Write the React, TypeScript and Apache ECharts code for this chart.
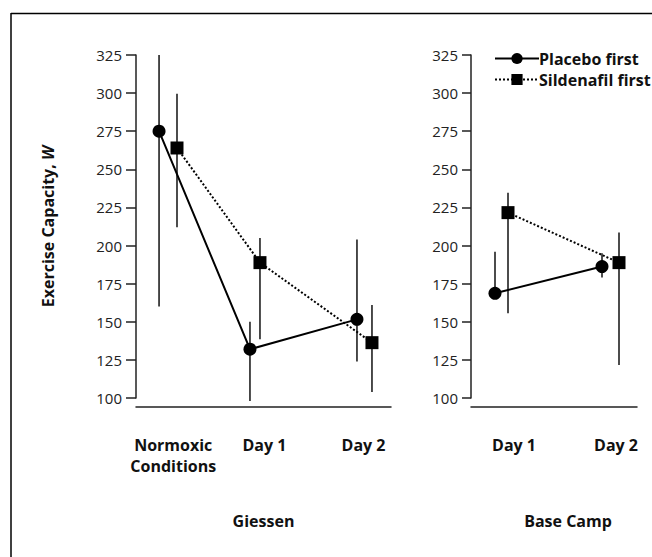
import React, { useEffect, useRef } from "react";
import * as echarts from "echarts";

// ---- Data ----
const giessenCategories = ["Normoxic\nConditions", "Day 1", "Day 2"];
const giessenCategoryPos = [-0.02, 0.91, 1.92];
const baseCampCategories = ["Day 1", "Day 2"];
const baseCampCategoryPos = [0.03, 1.05];

const yTicks = [100, 125, 150, 175, 200, 225, 250, 275, 300, 325];

// Giessen
const gPlaceboX = [-0.165, 0.762, 1.853];
const gPlaceboY = [275, 132, 151.6];
const gPlaceboLow = [160, 98, 124];
const gPlaceboHigh = [325, 150, 204];

const gSildX = [0.018, 0.864, 2.006];
const gSildY = [264, 188.8, 136.3];
const gSildLow = [212, 138.5, 104];
const gSildHigh = [299.5, 205, 161];

// Base Camp
const bPlaceboX = [-0.16, 0.91];
const bPlaceboY = [168.7, 186.2];
const bPlaceboLow = [168.7, 179];
const bPlaceboHigh = [196, 195];

const bSildX = [-0.03, 1.08];
const bSildY = [221.6, 188.8];
const bSildLow = [155.6, 121.6];
const bSildHigh = [234.7, 208.5];

const FONT = "'Open Sans', 'Noto Sans', sans-serif";

function pts(xs: number[], ys: number[]) {
  return xs.map((x, i) => [x, ys[i]]);
}
function bars(xs: number[], lo: number[], hi: number[]) {
  return xs.map((x, i) => [x, lo[i], hi[i]]);
}

const renderErr = (params: any, api: any) => {
  const x = api.value(0);
  const p1 = api.coord([x, api.value(1)]);
  const p2 = api.coord([x, api.value(2)]);
  return {
    type: "line",
    shape: { x1: p1[0], y1: p1[1], x2: p2[0], y2: p2[1] },
    style: { stroke: "#111", lineWidth: 1.5 },
  };
};

export default function App() {
  const ref = useRef<HTMLDivElement>(null);
  useEffect(() => {
    if (!ref.current) return;
    const chart = echarts.init(ref.current, undefined, { renderer: "svg" });

    const yAxisBase = (idx: number, tickLen: number) => ({
      type: "value",
      gridIndex: idx,
      min: yTicks[0],
      max: yTicks[yTicks.length - 1],
      interval: 25,
      axisLine: { show: true, onZero: false, lineStyle: { color: "#222", width: 1.5 } },
      axisTick: { show: true, length: tickLen, lineStyle: { color: "#222", width: 1.5 } },
      axisLabel: { color: "#222", fontSize: 15, fontFamily: FONT, margin: tickLen + 4 },
      splitLine: { show: false },
    });

    const xAxisBase = (idx: number, min: number, max: number, pos: number[], labels: string[]) => ({
      type: "value",
      gridIndex: idx,
      min,
      max,
      offset: 9,
      axisLine: { show: true, onZero: false, lineStyle: { color: "#222", width: 1.5 } },
      axisTick: { show: false },
      splitLine: { show: false },
      axisLabel: {
        customValues: pos,
        showMinLabel: true,
        showMaxLabel: true,
        margin: 27,
        color: "#111",
        fontSize: 16,
        fontWeight: "bold",
        fontFamily: FONT,
        lineHeight: 21,
        formatter: (v: number) => {
          const i = pos.findIndex((p) => Math.abs(p - v) < 1e-6);
          return i >= 0 ? labels[i] : "";
        },
      },
      nameLocation: "middle",
      nameTextStyle: { color: "#111", fontSize: 16, fontWeight: "bold", fontFamily: FONT },
    });

    const lineSolid = { color: "#000", width: 2, type: "solid" };
    const lineDot = { color: "#000", width: 2, type: [2, 2] };

    const option: any = {
      animation: false,
      backgroundColor: "#fff",
      textStyle: { fontFamily: FONT },
      grid: [
        { left: 136, width: 255, top: 55, height: 343 },
        { left: 471, width: 166, top: 55, height: 343 },
      ],
      xAxis: [
        { ...xAxisBase(0, -0.4, 2.2, giessenCategoryPos, giessenCategories), name: "Giessen", nameGap: 106 },
        {
          ...xAxisBase(1, -0.4, 1.26, baseCampCategoryPos, baseCampCategories),
          name: "Base Camp",
          nameGap: 106,
          nameTextStyle: { color: "#111", fontSize: 16, fontWeight: "bold", fontFamily: FONT, padding: [0, 0, 0, 28] },
        },
      ],
      yAxis: [
        {
          ...yAxisBase(0, 10),
          name: "Exercise Capacity, {i|W}",
          nameLocation: "middle",
          nameGap: 80,
          nameRotate: 90,
          nameTextStyle: {
            color: "#111",
            fontSize: 16,
            fontWeight: "bold",
            fontFamily: FONT,
            rich: { i: { fontSize: 16, fontWeight: "bold", fontStyle: "italic", fontFamily: FONT, color: "#111" } },
          },
        },
        yAxisBase(1, 9),
      ],
      legend: {
        left: 489,
        top: 45,
        orient: "vertical",
        itemWidth: 44,
        itemHeight: 14,
        itemGap: 4,
        data: ["Placebo first", "Sildenafil first"],
        textStyle: { color: "#111", fontSize: 16, lineHeight: 17, fontWeight: "bold", fontFamily: FONT, padding: [0, 0, 0, -5] },
      },
      graphic: [
        { type: "line", shape: { x1: 11, y1: 13.5, x2: 652, y2: 13.5 }, style: { stroke: "#000", lineWidth: 1.5 } },
        { type: "line", shape: { x1: 11, y1: 13, x2: 11, y2: 557 }, style: { stroke: "#000", lineWidth: 1.5 } },
      ],
      series: [
        { type: "custom", name: "err-gp", xAxisIndex: 0, yAxisIndex: 0, renderItem: renderErr, data: bars(gPlaceboX, gPlaceboLow, gPlaceboHigh), encode: { x: 0, y: [1, 2] }, z: 1 },
        { type: "custom", name: "err-gs", xAxisIndex: 0, yAxisIndex: 0, renderItem: renderErr, data: bars(gSildX, gSildLow, gSildHigh), encode: { x: 0, y: [1, 2] }, z: 1 },
        { type: "custom", name: "err-bp", xAxisIndex: 1, yAxisIndex: 1, renderItem: renderErr, data: bars(bPlaceboX, bPlaceboLow, bPlaceboHigh), encode: { x: 0, y: [1, 2] }, z: 1 },
        { type: "custom", name: "err-bs", xAxisIndex: 1, yAxisIndex: 1, renderItem: renderErr, data: bars(bSildX, bSildLow, bSildHigh), encode: { x: 0, y: [1, 2] }, z: 1 },
        {
          type: "line", name: "Placebo first", xAxisIndex: 0, yAxisIndex: 0, data: pts(gPlaceboX, gPlaceboY),
          symbol: "circle", symbolSize: 13, lineStyle: lineSolid, itemStyle: { color: "#000" }, z: 3,
        },
        {
          type: "line", name: "Sildenafil first", xAxisIndex: 0, yAxisIndex: 0, data: pts(gSildX, gSildY),
          symbol: "rect", symbolSize: 13, lineStyle: lineDot, itemStyle: { color: "#000" }, z: 3,
        },
        {
          type: "line", name: "Placebo first", xAxisIndex: 1, yAxisIndex: 1, data: pts(bPlaceboX, bPlaceboY),
          symbol: "circle", symbolSize: 13, lineStyle: lineSolid, itemStyle: { color: "#000" }, z: 3,
        },
        {
          type: "line", name: "Sildenafil first", xAxisIndex: 1, yAxisIndex: 1, data: pts(bSildX, bSildY),
          symbol: "rect", symbolSize: 13, lineStyle: lineDot, itemStyle: { color: "#000" }, z: 3,
        },
      ],
    };
    chart.setOption(option);
    return () => chart.dispose();
  }, []);
  return <div ref={ref} style={{ width: 652, height: 557, position: "absolute", left: 0, top: 0 }} />;
}
